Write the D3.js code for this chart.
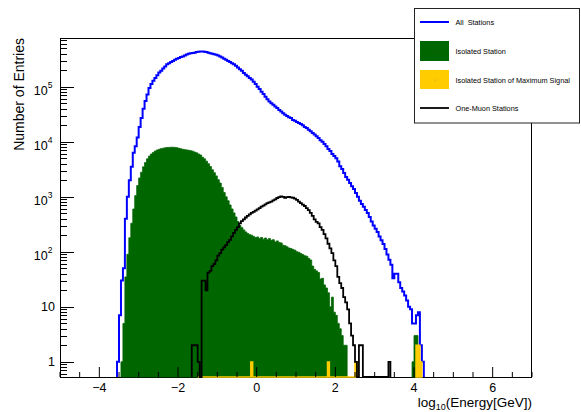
<!DOCTYPE html>
<html><head><meta charset="utf-8">
<script src="https://cdn.jsdelivr.net/npm/d3@7"></script>
<style>
body{margin:0;background:#fff}
svg{display:block}
text{font-family:"Liberation Sans",Arial,Helvetica,sans-serif;fill:#000}
</style>
</head><body>
<svg id="c" width="581" height="412"></svg>
<script>
// ---------------- data ----------------
const binWidth = 0.05;
const xDomain = [-5, 7];
const yDomain = [0.53, 7.7e5];
const xMajorTicks = [-4, -2, 0, 2, 4, 6];
const yDecades = [1, 10, 100, 1000, 10000, 100000];

const seriesNames = ["All  Stations", "Isolated Station", "Isolated Station of Maximum Signal", "One-Muon Stations"];

// All stations: first bin low edge and counts per 0.05 bin
const allStart = -3.55;
const allCounts = [1,7,30,50,400,1000,2000,3500,6300,8300,
  12000,18600,27000,40000,55000,72000,95000,112000,129000,145000,
  162000,182000,195000,214000,234000,257000,269000,282000,295000,309000,
  324000,335000,347000,355000,372000,385000,398000,407000,412000,417000,
  427000,432000,437000,437000,432000,427000,417000,407000,398000,389000,
  380000,372000,
  355000,339000,324000,309000,295000,282000,269000,257000,240000,224000,
  209000,195000,178000,166000,155000,145000,135000,123000,112000,100000,
  91000,81000,74000,66000,59000,54000,50000,47000,44000,41000,
  38000,35500,33000,31000,29500,28000,27000,25000,24000,23000,
  22000,21000,20000,18600,17800,16600,15500,14500,13500,12600,
  11700,10700,10000,9100,8300,7400,6800,6000,5500,5000,
  4400,3600,3200,2700,2300,2050,1780,1550,1380,1170,
  1000,850,740,660,575,510,430,355,300,263,
  230,190,162,138,112,89,72,58,33,40,
  40,28,22,19,16,13,10,9,5,5,
  7,8,2,1];

// Isolated station
const isoStart = -3.45;
const isoCounts = [1,5,35,90,180,330,600,1050,1600,2200,
  2800,3500,4200,4900,5500,6000,6400,6800,7100,7300,
  7500,7650,7750,7850,7900,7950,7950,7900,7800,7600,
  7450,7300,7200,7100,7000,6900,6750,6500,6300,6000,
  5750,5250,4900,4450,4000,3550,3100,2750,2400,2050,
  1780,1480,1200,1000,850,710,600,510,430,355,
  300,275,250,230,215,205,200,190,182,186,
  175,182,170,178,166,174,162,166,151,158,
  148,145,132,129,123,117,115,110,107,100,
  98,93,89,85,83,76,71,55,48,45,
  42,32,33,25,22,18,10,15,8,7,
  5,4,3,2,2];
const isoTailStart = 3.95;
const isoTailCounts = [1,3,3];

// Isolated station of maximum signal (sparse non-empty bins)
const maxSigBins = [-0.15, 1.80, 2.50, 4.05, 4.10, 4.15];
const maxSigCounts = [1, 1, 1, 2, 2, 1];
const maxSigZeroRange = [-1.50, 2.55];

// One-muon stations
const muonStart = -1.65;
const muonCounts = [2,2,2,1,0,30,30,20,42,45,
  55,60,70,85,95,110,120,132,150,165,
  190,220,250,280,330,360,390,420,450,480,
  510,530,560,590,620,660,690,730,770,790,
  820,860,900,950,990,1020,1000,960,990,1000,
  980,960,930,880,820,770,720,680,620,570,
  510,450,390,350,330,280,250,210,175,140,
  115,95,70,55,35,27,22,15,12,9,
  5,3,2,1,0,2,2,0,0,0,
  0,0,0,0,0,0,0,0,0,0,
  1];

const colors = {all:"#0000ff", iso:"#006600", maxSig:"#ffcc00", muon:"#000000"};

// ---------------- chart ----------------
const svg = d3.select("#c");
const L = 60, R = 532, T = 38, B = 377;
const x = d3.scaleLinear().domain(xDomain).range([L, R]);
const y = d3.scaleLog().domain(yDomain).range([B, T]).clamp(true);
const yv = c => c > 0 ? y(c) : B;

function stepPoints(start, counts) {
  const pts = [[start, 0]];
  counts.forEach((c, i) => {
    const a = start + i * binWidth;
    pts.push([a, c]);
    pts.push([a + binWidth, c]);
  });
  pts.push([start + counts.length * binWidth, 0]);
  return pts;
}
const line = d3.line().x(p => x(p[0])).y(p => yv(p[1]));
const area = d3.area().x(p => x(p[0])).y0(B).y1(p => yv(p[1]));

svg.append("defs").append("clipPath").attr("id","fr")
  .append("rect").attr("x", L).attr("y", T).attr("width", R - L).attr("height", B - T + 1.5);

// frame
svg.append("rect").attr("x", L + 0.5).attr("y", T + 0.5).attr("width", R - L - 1).attr("height", B - T)
  .attr("fill","none").attr("stroke","#000").attr("stroke-width",1);

const g = svg.append("g").attr("clip-path","url(#fr)");

// All stations
g.append("path").attr("d", line(stepPoints(allStart, allCounts)))
  .attr("fill","none").attr("stroke",colors.all).attr("stroke-width",2).attr("stroke-linejoin","miter");

// Isolated
[[isoStart, isoCounts],[isoTailStart, isoTailCounts]].forEach(([s, c]) => {
  g.append("path").attr("d", area(stepPoints(s, c)))
    .attr("fill",colors.iso).attr("stroke",colors.iso).attr("stroke-width",0.8);
});

// Max signal: segment over zero range + outside bins
function maxSigSegment(s0, s1) {
  const n = Math.round((s1 - s0) / binWidth) + 1;
  const arr = d3.range(n).map(i => {
    const b = s0 + i * binWidth;
    const k = maxSigBins.findIndex(v => Math.abs(v - b) < 1e-6);
    return k >= 0 ? maxSigCounts[k] : 0;
  });
  return stepPoints(s0, arr);
}
const outside = maxSigBins.filter(b => b > maxSigZeroRange[1]);
[maxSigSegment(maxSigZeroRange[0], maxSigZeroRange[1]),
 maxSigSegment(d3.min(outside), d3.max(outside))].forEach(pts => {
  g.append("path").attr("d", area(pts)).attr("fill",colors.maxSig)
    .attr("stroke",colors.maxSig).attr("stroke-width",1.4);
});

// One muon
g.append("path").attr("d", line(stepPoints(muonStart, muonCounts)))
  .attr("fill","none").attr("stroke",colors.muon).attr("stroke-width",1.8);

// x ticks
const xMinor = d3.range(xDomain[0], xDomain[1] + 1e-9, 0.5);
svg.append("g").selectAll("line").data(xMinor).join("line")
  .attr("x1", d => x(d)).attr("x2", d => x(d))
  .attr("y1", B).attr("y2", d => xMajorTicks.includes(d) ? B - 10 : B - 5)
  .attr("stroke","#000").attr("stroke-width",1);
svg.append("g").selectAll("text").data(xMajorTicks).join("text")
  .attr("x", d => x(d)).attr("y", 392).attr("text-anchor","middle")
  .attr("font-size", 12.5).text(d => d < 0 ? "\u2212" + Math.abs(d) : d);

// y ticks
const yMinor = [];
[0.1, 1, 10, 100, 1000, 10000, 100000].forEach(dec => {
  for (let m = 2; m <= 9; m++) { const v = dec * m; if (v >= yDomain[0] && v <= yDomain[1]) yMinor.push(v); }
});
svg.append("g").selectAll("line").data(yMinor).join("line")
  .attr("x1", L).attr("x2", L + 7).attr("y1", d => Math.round(y(d)) + 0.5).attr("y2", d => Math.round(y(d)) + 0.5)
  .attr("stroke","#000").attr("stroke-width",1);
svg.append("g").selectAll("line").data(yDecades).join("line")
  .attr("x1", L).attr("x2", L + 14).attr("y1", d => Math.round(y(d)) + 0.5).attr("y2", d => Math.round(y(d)) + 0.5)
  .attr("stroke","#000").attr("stroke-width",1);
const yl = svg.append("g");
yDecades.forEach(d => {
  const e = Math.round(Math.log10(d));
  if (e <= 1) {
    yl.append("text").attr("x", 55).attr("y", y(d) + 4.5).attr("text-anchor","end")
      .attr("font-size",12.5).text(d);
  } else {
    const t = yl.append("text").attr("x", 52.5).attr("y", y(d) + 8).attr("text-anchor","end").attr("font-size",12.5);
    t.append("tspan").text("10");
    t.append("tspan").attr("font-size",8.5).attr("dy",-6.5).text(e);
  }
});

// axis titles
svg.append("text").attr("transform","translate(24,38) rotate(-90)").attr("text-anchor","end")
  .attr("font-size",14).text("Number of Entries");
const xt = svg.append("text").attr("x", R).attr("y", 406.5).attr("text-anchor","end").attr("font-size",13.5);
xt.append("tspan").text("log");
xt.append("tspan").attr("font-size",9).attr("dy",3.5).text("10");
xt.append("tspan").attr("dy",-3.5).text("(Energy[GeV])");

// legend
const lg = svg.append("g");
lg.append("rect").attr("x",414.5).attr("y",8.5).attr("width",165).attr("height",114.5)
  .attr("fill","#fff").attr("stroke","#222").attr("stroke-width",1);
const rows = [22, 51, 80, 108];
lg.append("line").attr("x1",420).attr("x2",449).attr("y1",rows[0]).attr("y2",rows[0])
  .attr("stroke",colors.all).attr("stroke-width",2);
lg.append("rect").attr("x",420).attr("y",41).attr("width",29).attr("height",20).attr("fill",colors.iso);
lg.append("rect").attr("x",420).attr("y",70).attr("width",29).attr("height",19).attr("fill",colors.maxSig);
lg.append("circle").attr("cx",435).attr("cy",51).attr("r",0.6).attr("fill","#333");
lg.append("circle").attr("cx",435).attr("cy",80).attr("r",0.6).attr("fill","#996");
lg.append("line").attr("x1",420).attr("x2",449).attr("y1",rows[3]).attr("y2",rows[3])
  .attr("stroke",colors.muon).attr("stroke-width",1.8);
seriesNames.forEach((n, i) => {
  lg.append("text").attr("x",455.5).attr("y",rows[i] + 2.6).attr("font-size",7.3)
    .style("white-space","pre").text(n);
});
</script>
</body></html>
